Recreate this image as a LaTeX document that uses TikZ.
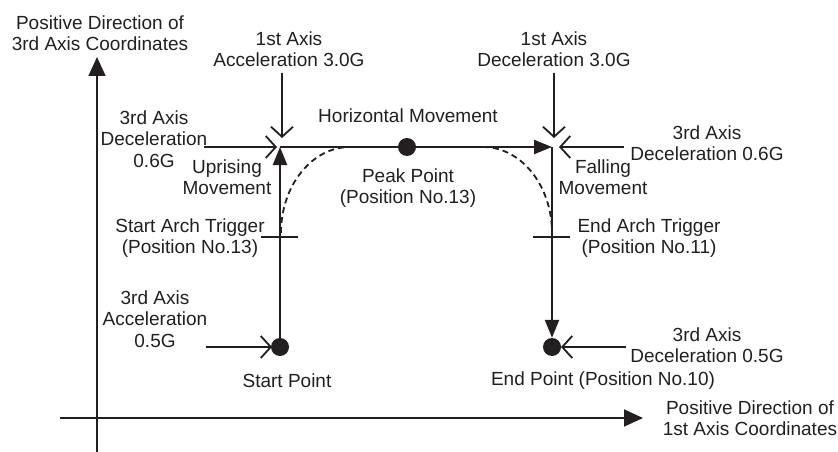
\documentclass[tikz,border=0pt]{standalone}
\usepackage{fontspec}
\setmainfont{Liberation Sans}
\usetikzlibrary{arrows.meta}
\definecolor{ink}{HTML}{231F20}
\begin{document}
\begin{tikzpicture}[x=1pt,y=-1pt,
  every node/.style={text=ink,font=\fontsize{19}{21.5}\selectfont,align=center,inner sep=0pt},
  axisline/.style={draw=ink,line width=1.8pt,-{Triangle[length=19pt,width=17pt]}},
  pathline/.style={draw=ink,line width=2.3pt},
  solidtip/.style={-{Triangle[length=18pt,width=14pt]}},
  forceline/.style={draw=ink,line width=1.8pt,-{Straight Barb[length=10pt,width=22pt,line width=1.8pt]}},
  dot/.style={circle,fill=ink,minimum size=18pt,inner sep=0pt},
  tick/.style={draw=ink,line width=1.8pt},
  arch/.style={draw=ink,line width=1.8pt,dash pattern=on 6pt off 4pt}]
\useasboundingbox (0,0) rectangle (838,452);

% coordinate axes
\coordinate (yaxis0) at (97,452);
\coordinate (yaxis1) at (97,57);
\coordinate (xaxis0) at (60,418);
\coordinate (xaxis1) at (643,418);
\draw[axisline] (yaxis0) -- (yaxis1);
\draw[axisline] (xaxis0) -- (xaxis1);
\node (ylabel) at (100,33) {Positive Direction of\\3rd Axis Coordinates};
\node (xlabel) at (750,418) {Positive Direction of\\1st Axis Coordinates};

% points of the arch motion
\node[dot] (start) at (280,347) {};
\node[dot] (finish) at (552,347) {};
\node[dot] (peak) at (407,147) {};
\coordinate (upper left) at (280,147);
\coordinate (upper right) at (552,147);

% movement path
\draw[pathline,solidtip] (start) -- (upper left);
\draw[pathline,solidtip] (upper left) -- (upper right);
\draw[pathline,solidtip] (upper right) -- (finish);

% arch trigger ticks
\coordinate (trigA) at (280,237);
\coordinate (trigB) at (552,237);
\draw[tick] ([xshift=-19pt]trigA) -- ([xshift=18pt]trigA);
\draw[tick] ([xshift=-19pt]trigB) -- ([xshift=18pt]trigB);

% rounded arch actually travelled (y axis points down here)
\draw[arch] (281,233) arc[start angle=180,end angle=270,x radius=69,y radius=86];
\draw[arch] (483,147) arc[start angle=270,end angle=360,x radius=69,y radius=86];

% acceleration / deceleration forces
\coordinate (f1a) at (282,73);  \coordinate (f1b) at (282,138);
\coordinate (f2a) at (204,147); \coordinate (f2b) at (277,147);
\coordinate (f3a) at (554,73);  \coordinate (f3b) at (554,138);
\coordinate (f4a) at (624,147); \coordinate (f4b) at (559,147);
\coordinate (f5a) at (206,347); \coordinate (f5b) at (272,347);
\coordinate (f6a) at (626,347); \coordinate (f6b) at (561,347);
\draw[forceline] (f1a) -- (f1b);
\draw[forceline] (f2a) -- (f2b);
\draw[forceline] (f3a) -- (f3b);
\draw[forceline] (f4a) -- (f4b);
\draw[forceline] (f5a) -- (f5b);
\draw[forceline] (f6a) -- (f6b);

% labels
\node (acc1) at (289,49) {1st Axis\\Acceleration 3.0G};
\node (dec1) at (554,49) {1st Axis\\Deceleration 3.0G};
\node (dec3a) at (154,139) {3rd Axis\\Deceleration\\0.6G};
\node (dec3b) at (707,143) {3rd Axis\\Deceleration 0.6G};
\node (rise) at (227,177) {Uprising\\Movement};
\node (fall) at (603,177) {Falling\\Movement};
\node (horiz) at (408,116) {Horizontal Movement};
\node (peaklbl) at (408,188) {Peak Point\\(Position No.13)};
\node (trigAlbl) at (190,238) {Start Arch Trigger\\(Position No.13)};
\node (trigBlbl) at (649,238) {End Arch Trigger\\(Position No.11)};
\node (acc3) at (155,319) {3rd Axis\\Acceleration\\0.5G};
\node (dec3c) at (707,345) {3rd Axis\\Deceleration 0.5G};
\node (startlbl) at (287,381) {Start Point};
\node (finishlbl) at (603,381) {End Point (Position No.10)};
\end{tikzpicture}
\end{document}
